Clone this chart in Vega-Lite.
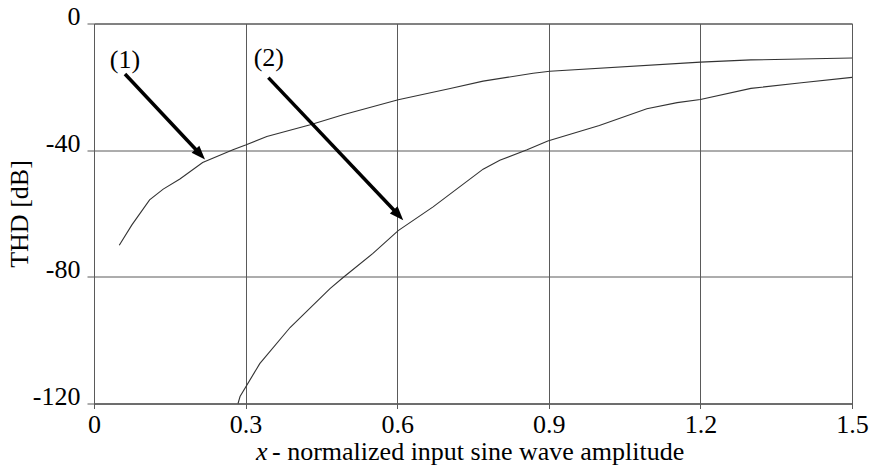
{
  "$schema": "https://vega.github.io/schema/vega-lite/v6.json",
  "width": 758,
  "height": 380,
  "autosize": {"type": "none"},
  "padding": {"left": 94, "top": 23.5, "right": 17, "bottom": 70.5},
  "background": "white",
  "config": {
    "font": "Liberation Serif",
    "view": {"stroke": "#555555", "strokeWidth": 1},
    "axis": {
      "labelFont": "Liberation Serif",
      "titleFont": "Liberation Serif",
      "labelFontSize": 26,
      "titleFontSize": 26,
      "labelColor": "#000000",
      "titleColor": "#000000",
      "titleFontWeight": "normal",
      "gridColor": "#5a5a5a",
      "gridOpacity": 1,
      "gridWidth": 1,
      "domainColor": "#5a5a5a",
      "tickColor": "#5a5a5a",
      "labelFlush": false,
      "labelOverlap": false
    }
  },
  "datasets": {
    "curves": [
      {"series": "1", "x": 0.05, "y": -70},
      {"series": "1", "x": 0.075, "y": -63.6},
      {"series": "1", "x": 0.11, "y": -55.7},
      {"series": "1", "x": 0.137, "y": -52.3},
      {"series": "1", "x": 0.17, "y": -49.1},
      {"series": "1", "x": 0.215, "y": -43.9},
      {"series": "1", "x": 0.275, "y": -39.9},
      {"series": "1", "x": 0.3, "y": -38.4},
      {"series": "1", "x": 0.342, "y": -35.7},
      {"series": "1", "x": 0.428, "y": -32},
      {"series": "1", "x": 0.493, "y": -28.8},
      {"series": "1", "x": 0.602, "y": -24.1},
      {"series": "1", "x": 0.705, "y": -20.5},
      {"series": "1", "x": 0.77, "y": -18.2},
      {"series": "1", "x": 0.869, "y": -15.7},
      {"series": "1", "x": 0.902, "y": -15.1},
      {"series": "1", "x": 1.2, "y": -12.2},
      {"series": "1", "x": 1.3, "y": -11.5},
      {"series": "1", "x": 1.5, "y": -10.9},
      {"series": "2", "x": 0.285, "y": -120},
      {"series": "2", "x": 0.289, "y": -117.8},
      {"series": "2", "x": 0.328, "y": -107.4},
      {"series": "2", "x": 0.388, "y": -96},
      {"series": "2", "x": 0.467, "y": -83.7},
      {"series": "2", "x": 0.493, "y": -80.2},
      {"series": "2", "x": 0.552, "y": -72.6},
      {"series": "2", "x": 0.602, "y": -65.4},
      {"series": "2", "x": 0.671, "y": -57.9},
      {"series": "2", "x": 0.77, "y": -46},
      {"series": "2", "x": 0.803, "y": -43.2},
      {"series": "2", "x": 0.857, "y": -39.9},
      {"series": "2", "x": 0.898, "y": -37.1},
      {"series": "2", "x": 1.0, "y": -32.2},
      {"series": "2", "x": 1.094, "y": -26.9},
      {"series": "2", "x": 1.154, "y": -25},
      {"series": "2", "x": 1.2, "y": -24},
      {"series": "2", "x": 1.3, "y": -20.5},
      {"series": "2", "x": 1.4, "y": -18.7},
      {"series": "2", "x": 1.5, "y": -17}
    ],
    "arrows": [
      {"label": "(1)", "lx": 0.0613, "ly": -11.5, "x": 0.0613, "y": -15.97, "x2": 0.2034, "y2": -40.1, "tx": 0.2197, "ty": -42.94},
      {"label": "(2)", "lx": 0.346, "ly": -11.05, "x": 0.345, "y": -17.1, "x2": 0.5957, "y2": -59.3, "tx": 0.612, "ty": -62.1}
    ],
    "xtitle": [
      {"part": "x", "x": 0.332, "y": -120},
      {"part": "- normalized input sine wave amplitude", "x": 0.3523, "y": -120}
    ]
  },
  "layer": [
    {
      "data": {"name": "curves"},
      "mark": {"type": "line", "color": "#333333", "strokeWidth": 1.1, "interpolate": "linear"},
      "encoding": {
        "x": {
          "field": "x",
          "type": "quantitative",
          "scale": {"domain": [0, 1.5], "nice": false, "zero": false},
          "axis": {
            "title": null,
            "values": [0, 0.3, 0.6, 0.9, 1.2, 1.5],
            "format": ".1~f",
            "grid": true,
            "tickSize": 5,
            "labelPadding": 3
          }
        },
        "y": {
          "field": "y",
          "type": "quantitative",
          "scale": {"domain": [-120, 0], "nice": false, "zero": false},
          "axis": {
            "title": "THD [dB]",
            "values": [-120, -80, -40, 0],
            "labelExpr": "'' + datum.value",
            "grid": true,
            "tickSize": 7,
            "labelPadding": 7,
            "labelBaseline": "alphabetic",
            "labelOffset": 1,
            "titlePadding": 0
          }
        },
        "detail": {"field": "series"}
      }
    },
    {
      "data": {"name": "arrows"},
      "mark": {"type": "rule", "color": "#000000", "strokeWidth": 3.5, "strokeCap": "butt"},
      "encoding": {
        "x": {"field": "x", "type": "quantitative"},
        "y": {"field": "y", "type": "quantitative"},
        "x2": {"field": "x2"},
        "y2": {"field": "y2"}
      }
    },
    {
      "data": {"name": "arrows"},
      "mark": {
        "type": "point",
        "shape": "M0,0L-2,-0.75L-2,0.75Z",
        "filled": true,
        "color": "#000000",
        "opacity": 1,
        "size": 196,
        "angle": 47,
        "strokeWidth": 0
      },
      "encoding": {
        "x": {"field": "tx", "type": "quantitative"},
        "y": {"field": "ty", "type": "quantitative"}
      }
    },
    {
      "data": {"name": "arrows"},
      "mark": {"type": "text", "fontSize": 26, "font": "Liberation Serif", "color": "#000000", "align": "center", "baseline": "middle"},
      "encoding": {
        "x": {"field": "lx", "type": "quantitative"},
        "y": {"field": "ly", "type": "quantitative"},
        "text": {"field": "label"}
      }
    },
    {
      "data": {"name": "xtitle"},
      "transform": [{"filter": "datum.part == 'x'"}],
      "mark": {"type": "text", "fontSize": 26, "font": "Liberation Serif", "fontStyle": "italic", "color": "#000000", "align": "center", "baseline": "alphabetic", "dy": 56},
      "encoding": {
        "x": {"field": "x", "type": "quantitative"},
        "y": {"field": "y", "type": "quantitative"},
        "text": {"field": "part"}
      }
    },
    {
      "data": {"name": "xtitle"},
      "transform": [{"filter": "datum.part != 'x'"}],
      "mark": {"type": "text", "fontSize": 26, "font": "Liberation Serif", "color": "#000000", "align": "left", "baseline": "alphabetic", "dy": 56},
      "encoding": {
        "x": {"field": "x", "type": "quantitative"},
        "y": {"field": "y", "type": "quantitative"},
        "text": {"field": "part"}
      }
    }
  ]
}
